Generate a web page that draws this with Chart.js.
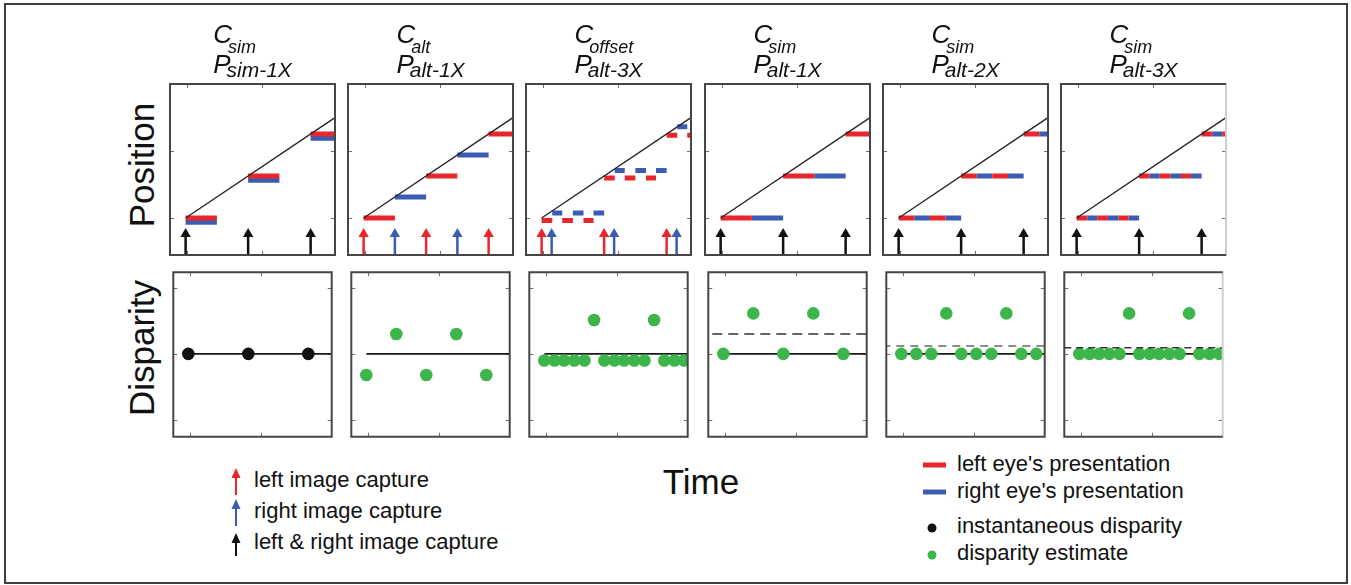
<!DOCTYPE html>
<html>
<head>
<meta charset="utf-8">
<title>Capture and presentation timing</title>
<script src="https://cdn.jsdelivr.net/npm/chart.js@4.4.1/dist/chart.umd.min.js"></script>
<style>
  html, body { margin: 0; padding: 0; background: #fff; }
  body {
    width: 1351px; height: 585px; position: relative; overflow: hidden;
    font-family: "Liberation Sans", Arial, Helvetica, sans-serif; color: #111;
  }
  #frame { position: absolute; left: 4px; top: 3px; width: 1340px; height: 577px; border: 2px solid #3e3e3e; }
  canvas.panel { position: absolute; }
  .ttl { position: absolute; top: 19px; white-space: nowrap; font-style: italic; transform: translateX(-50%); color: #111; }
  .ttl .row { height: 30px; line-height: 30px; }
  .ttl .big { font-size: 26px; }
  .ttl .subC { font-size: 18px; position: relative; top: 10px; margin-left: -4px; }
  .ttl .subP { font-size: 21px; position: relative; top: 4px; margin-left: -4px; }
  .axlab { position: absolute; font-size: 35px; line-height: 35px; white-space: nowrap; transform: translate(-50%, -50%); }
  .axlab.rot { transform: translate(-50%, -50%) rotate(-90deg); }
  .leg { position: absolute; font-size: 22px; line-height: 22px; white-space: nowrap; color: #111; }
  #icons { position: absolute; left: 0; top: 0; pointer-events: none; }
</style>
</head>
<body>
<div id="frame"></div>
<div id="figure"></div>

<div class="axlab rot" style="left:141px; top:165px;">Position</div>
<div class="axlab rot" style="left:141px; top:348px;">Disparity</div>
<div class="axlab" style="left:701px; top:481px;">Time</div>

<div class="leg" style="left:254px; top:469px;">left image capture</div>
<div class="leg" style="left:254px; top:500px;">right image capture</div>
<div class="leg" style="left:254px; top:531px;">left &amp; right image capture</div>

<div class="leg" style="left:957px; top:453px;">left eye's presentation</div>
<div class="leg" style="left:957px; top:480px;">right eye's presentation</div>
<div class="leg" style="left:957px; top:515px;">instantaneous disparity</div>
<div class="leg" style="left:957px; top:542px;">disparity estimate</div>

<svg id="icons" width="1351" height="585" xmlns="http://www.w3.org/2000/svg">
  <!-- capture arrows -->
  <line x1="236" y1="495" x2="236" y2="476" stroke="#e8262b" stroke-width="2"/>
  <polygon points="236,468 231.5,478 240.5,478" fill="#e8262b"/>
  <line x1="236" y1="526" x2="236" y2="507" stroke="#3b5cb3" stroke-width="2"/>
  <polygon points="236,499 231.5,509 240.5,509" fill="#3b5cb3"/>
  <line x1="236" y1="556" x2="236" y2="541" stroke="#111" stroke-width="2"/>
  <polygon points="236,533 231.5,543 240.5,543" fill="#111"/>
  <!-- presentation and disparity keys -->
  <line x1="923" y1="465" x2="946" y2="465" stroke="#e8262b" stroke-width="5"/>
  <line x1="923" y1="492" x2="946" y2="492" stroke="#3b5cb3" stroke-width="5"/>
  <circle cx="932" cy="528" r="4.5" fill="#111"/>
  <circle cx="932" cy="555" r="4.5" fill="#3cb54a"/>
</svg>

<script>
// ---- axes (time in capture intervals, position in object displacement per interval) ----
const TIME_MIN = -0.25, TIME_MAX = 2.39;
const timeTicks = [0.02, 1.22];
const POS_MIN = -0.88, POS_MAX = 3.19;
const positionTicks = [0, 1.6];
const DISP_MIN = -1.25, DISP_MAX = 1.23;
const disparityTicks = [-1, 0, 1];
const ARROW_HEAD = -0.38;

// ---- panel titles: camera mode (C) and presentation mode (P) ----
const cameraModes = ['sim', 'alt', 'offset', 'sim', 'sim', 'sim'];
const presentationModes = ['sim-1X', 'alt-1X', 'alt-3X', 'alt-1X', 'alt-2X', 'alt-3X'];

// ---- image capture times ----
const leftCaptures  = [[], [0, 1, 2], [0, 1, 2], [], [], []];
const rightCaptures = [[], [0.5, 1.5], [0.16, 1.16, 2.16], [], [], []];
const bothCaptures  = [[0, 1, 2], [], [], [0, 1, 2], [0, 1, 2], [0, 1, 2]];

// ---- presented frames: [start, end, position] ----
const leftEyeFrames = [
  [[0, 0.5, 0], [1, 1.5, 1], [2, 2.5, 2]],
  [[0, 0.5, 0], [1, 1.5, 1], [2, 2.5, 2]],
  [[0, 0.17, -0.06], [0.33, 0.5, -0.06], [0.67, 0.83, -0.06],
   [1, 1.17, 0.95], [1.33, 1.5, 0.95], [1.67, 1.83, 0.95],
   [2, 2.17, 1.97], [2.33, 2.5, 1.97]],
  [[0, 0.5, 0], [1, 1.5, 1], [2, 2.5, 2]],
  [[0, 0.25, 0], [0.5, 0.75, 0], [1, 1.25, 1], [1.5, 1.75, 1], [2, 2.25, 2]],
  [[0, 0.17, 0], [0.33, 0.5, 0], [0.67, 0.83, 0],
   [1, 1.17, 1], [1.33, 1.5, 1], [1.67, 1.83, 1],
   [2, 2.17, 2], [2.33, 2.5, 2]]
];
const rightEyeFrames = [
  [[0, 0.5, -0.1], [1, 1.5, 0.9], [2, 2.5, 1.9]],
  [[0.5, 1, 0.5], [1.5, 2, 1.5]],
  [[0.17, 0.33, 0.12], [0.5, 0.67, 0.12], [0.83, 1, 0.12],
   [1.17, 1.33, 1.13], [1.5, 1.67, 1.13], [1.83, 2, 1.13],
   [2.17, 2.33, 2.17]],
  [[0.5, 1, 0], [1.5, 2, 1]],
  [[0.25, 0.5, 0], [0.75, 1, 0], [1.25, 1.5, 1], [1.75, 2, 1], [2.25, 2.5, 2]],
  [[0.17, 0.33, 0], [0.5, 0.67, 0], [0.83, 1, 0],
   [1.17, 1.33, 1], [1.5, 1.67, 1], [1.83, 2, 1],
   [2.17, 2.33, 2]]
];
// true object path: start and end of the ramp
const objectPath = [[0, 0], [2.6, 2.6]];

// ---- disparity ----
const instantTimes  = [[0, 1, 2], [], [], [], [], []];
const instantValues = [[0, 0, 0], [], [], [], [], []];
const estimateTimes = [
  [],
  [0, 0.5, 1, 1.5, 2],
  [0, 0.17, 0.33, 0.5, 0.67, 0.83, 1, 1.17, 1.33, 1.5, 1.67, 1.83, 2, 2.17, 2.33],
  [0, 0.5, 1, 1.5, 2],
  [0, 0.25, 0.5, 0.75, 1, 1.25, 1.5, 1.75, 2, 2.25],
  [0, 0.17, 0.33, 0.5, 0.67, 0.83, 1, 1.17, 1.33, 1.5, 1.67, 1.83, 2, 2.17, 2.33]
];
const estimateValues = [
  [],
  [-0.32, 0.3, -0.32, 0.3, -0.32],
  [-0.1, -0.1, -0.1, -0.1, -0.1, 0.51, -0.1, -0.1, -0.1, -0.1, -0.1, 0.51, -0.1, -0.1, -0.1],
  [0, 0.61, 0, 0.61, 0],
  [0, 0, 0, 0.61, 0, 0, 0, 0.61, 0, 0],
  [0, 0, 0, 0, 0, 0.61, 0, 0, 0, 0, 0, 0.61, 0, 0, 0]
];
const meanDisparity = [null, null, null, 0.3, 0.12, 0.09];

// ---- styling ----
const COLORS = { left: '#e8262b', right: '#3b5cb3', both: '#111111', path: '#222222', estimate: '#3cb54a', instant: '#111111' };
const meanStyles = [null, null, null,
  { color: '#333333', dash: [10, 6], width: 1.5 },
  { color: '#8c8c8c', dash: [8, 6], width: 2 },
  { color: '#333333', dash: [7, 5], width: 1.5 }];
const PANEL_W = 165, PANEL_H = 171, PANEL_X0 = 170, PANEL_PITCH = 178.2;
const TOP_Y = 84, BOTTOM_Y = 269, PAD = 3;

// frame and inward tick marks of every panel
const panelFrame = {
  id: 'panelFrame',
  beforeDatasetsDraw(chart, args, opts) {
    const { ctx, chartArea: a, scales: { x, y } } = chart;
    ctx.save();
    ctx.strokeStyle = '#707070';
    ctx.lineWidth = 1;
    const L = 4;
    ctx.beginPath();
    opts.xTicks.forEach(v => {
      const px = Math.round(x.getPixelForValue(v)) + 0.5;
      ctx.moveTo(px, a.top); ctx.lineTo(px, a.top + L);
      ctx.moveTo(px, a.bottom); ctx.lineTo(px, a.bottom - L);
    });
    opts.yTicks.forEach(v => {
      const py = Math.round(y.getPixelForValue(v)) + 0.5;
      ctx.moveTo(a.left, py); ctx.lineTo(a.left + L, py);
      ctx.moveTo(a.right, py); ctx.lineTo(a.right - L, py);
    });
    ctx.stroke();
    ctx.restore();
  },
  afterDraw(chart, args, opts) {
    const { ctx, chartArea: a } = chart;
    ctx.save();
    ctx.lineWidth = 2;
    ctx.strokeStyle = opts.rightColor;
    ctx.beginPath(); ctx.moveTo(a.right, a.top - 1); ctx.lineTo(a.right, a.bottom + 1); ctx.stroke();
    ctx.strokeStyle = '#464646';
    ctx.beginPath();
    ctx.moveTo(a.right, a.top); ctx.lineTo(a.left, a.top);
    ctx.lineTo(a.left, a.bottom); ctx.lineTo(a.right, a.bottom);
    ctx.stroke();
    ctx.restore();
  }
};

function framePoints(frames) {
  const pts = [];
  frames.forEach(([t0, t1, p]) => { pts.push({ x: t0, y: p }, { x: t1, y: p }, { x: t1, y: null }); });
  return pts;
}
function arrowPoints(times) {
  const pts = [];
  times.forEach(t => { pts.push({ x: t, y: POS_MIN - 0.5 }, { x: t, y: ARROW_HEAD, head: true }, { x: t, y: null }); });
  return pts;
}
function arrowDataset(times, color) {
  return {
    data: arrowPoints(times), showLine: true, borderColor: color, borderWidth: 2.5,
    pointStyle: 'triangle', pointBackgroundColor: color, pointBorderWidth: 0,
    pointRadius: c => (c.raw && c.raw.head ? 6 : 0), clip: 0
  };
}
function withOrder(list) {
  // first entry is drawn lowest
  return list.map((d, i) => Object.assign({ order: list.length - i }, d));
}

function makeCanvas(left, top) {
  const cv = document.createElement('canvas');
  cv.className = 'panel';
  cv.width = PANEL_W + 2 * PAD; cv.height = PANEL_H + 2 * PAD;
  cv.style.left = (left - PAD) + 'px'; cv.style.top = (top - PAD) + 'px';
  cv.style.width = cv.width + 'px'; cv.style.height = cv.height + 'px';
  document.getElementById('figure').appendChild(cv);
  return cv;
}
function baseOptions(yMin, yMax, yTicks, rightColor) {
  return {
    responsive: false, animation: false, events: [],
    layout: { padding: PAD },
    scales: {
      x: { type: 'linear', display: false, min: TIME_MIN, max: TIME_MAX },
      y: { type: 'linear', display: false, min: yMin, max: yMax }
    },
    plugins: {
      legend: { display: false }, tooltip: { enabled: false },
      panelFrame: { xTicks: timeTicks, yTicks: yTicks, rightColor: rightColor }
    }
  };
}

for (let i = 0; i < 6; i++) {
  const left = Math.round(PANEL_X0 + i * PANEL_PITCH);
  const rightColor = i === 5 ? '#cfcfcf' : '#464646';

  // title
  const ttl = document.createElement('div');
  ttl.className = 'ttl';
  ttl.style.left = (left + PANEL_W / 2) + 'px';
  ttl.innerHTML =
    '<div class="row"><span class="big">C</span><span class="subC">' + cameraModes[i] + '</span></div>' +
    '<div class="row"><span class="big">P</span><span class="subP">' + presentationModes[i] + '</span></div>';
  document.body.appendChild(ttl);

  // position vs time
  const seg = { showLine: true, borderWidth: 5, borderCapStyle: 'butt', pointRadius: 0, clip: 0, spanGaps: false };
  const topSets = withOrder([
    Object.assign({ data: framePoints(rightEyeFrames[i]), borderColor: COLORS.right }, seg),
    Object.assign({ data: framePoints(leftEyeFrames[i]), borderColor: COLORS.left }, seg),
    { data: objectPath.map(([x, y]) => ({ x, y })), showLine: true, borderColor: COLORS.path, borderWidth: 1.3, pointRadius: 0, clip: 0 },
    arrowDataset(leftCaptures[i], COLORS.left),
    arrowDataset(rightCaptures[i], COLORS.right),
    arrowDataset(bothCaptures[i], COLORS.both)
  ]);
  new Chart(makeCanvas(left, TOP_Y), {
    type: 'scatter',
    data: { datasets: topSets },
    options: baseOptions(POS_MIN, POS_MAX, positionTicks, rightColor),
    plugins: [panelFrame]
  });

  // disparity vs time
  const bottomList = [
    { data: [{ x: 0, y: 0 }, { x: TIME_MAX + 1, y: 0 }], showLine: true, borderColor: '#1a1a1a', borderWidth: 1.6, pointRadius: 0, clip: 0 },
    { data: instantTimes[i].map((t, k) => ({ x: t, y: instantValues[i][k] })), showLine: false,
      pointRadius: 6.3, pointBackgroundColor: COLORS.instant, pointBorderWidth: 0, clip: 0 },
    { data: estimateTimes[i].map((t, k) => ({ x: t, y: estimateValues[i][k] })), showLine: false,
      pointRadius: 6.3, pointBackgroundColor: COLORS.estimate, pointBorderWidth: 0, clip: 0 }
  ];
  if (meanDisparity[i] !== null) {
    const st = meanStyles[i];
    bottomList.push({
      data: [{ x: TIME_MIN - 1, y: meanDisparity[i] }, { x: TIME_MAX + 1, y: meanDisparity[i] }],
      showLine: true, borderColor: st.color, borderWidth: st.width, borderDash: st.dash, pointRadius: 0, clip: 0
    });
  }
  new Chart(makeCanvas(left, BOTTOM_Y), {
    type: 'scatter',
    data: { datasets: withOrder(bottomList) },
    options: baseOptions(DISP_MIN, DISP_MAX, disparityTicks, rightColor),
    plugins: [panelFrame]
  });
}
</script>
</body>
</html>
